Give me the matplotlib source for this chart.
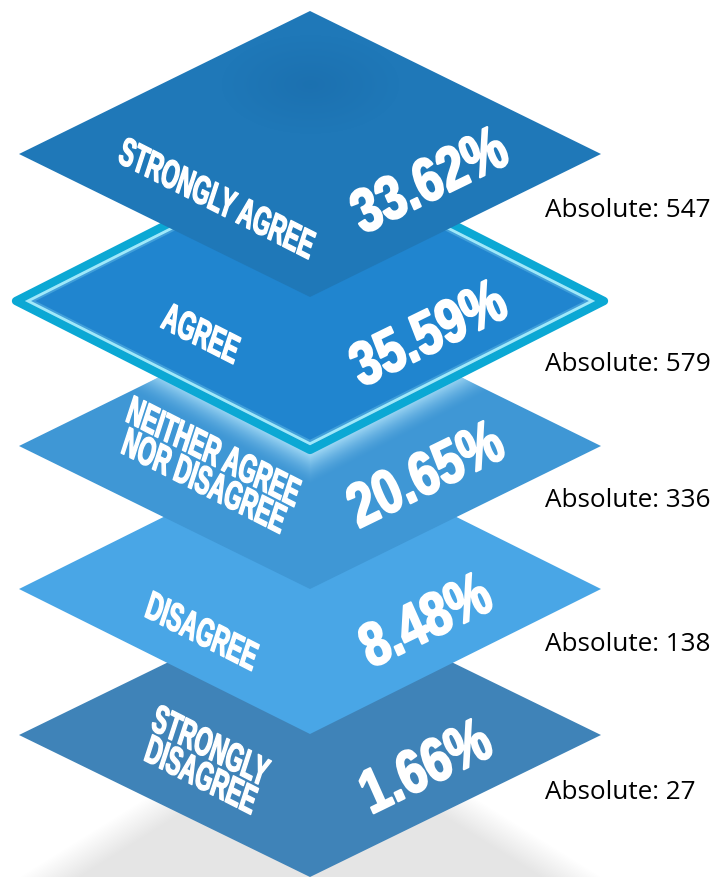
import numpy as np
import matplotlib
matplotlib.use("Agg")
import matplotlib.pyplot as plt
from matplotlib.patches import Polygon
from matplotlib.patheffects import AbstractPathEffect
from matplotlib.transforms import Affine2D

categories = ["STRONGLY AGREE", "AGREE", "NEITHER AGREE\nNOR DISAGREE", "DISAGREE", "STRONGLY\nDISAGREE"]
percents = [33.62, 35.59, 20.65, 8.48, 1.66]
absolutes = [547, 579, 336, 138, 27]

layer_colors = ["#1f78b8", "#2085cf", "#3f97d5", "#49a6e6", "#3f83b8"]
layer_y = [155, 302, 447, 590, 736]
layer_half_h = [143, 149, 143, 145, 142]
label_pos = [(216, 202), (200, 337), (208, 470), (201, 635), (205, 764)]
pct_pos = [(431, 185), (430, 338), (427, 479), (427, 625), (427, 771)]
abs_y = [211, 365, 501, 645, 793]

CX = 310
HALF_W = 291

fig = plt.figure(figsize=(7.16, 8.78), dpi=100)
ax = fig.add_axes([0, 0, 1, 1])
ax.set_axis_off()


class SkewText(AbstractPathEffect):
    # squeezes and leans the glyphs around the anchor, along the text direction
    def __init__(self, anchor, angle, narrow, lean, stroke):
        super().__init__()
        self.anchor = anchor
        self.angle = angle
        self.narrow = narrow
        self.lean = lean
        self.stroke = stroke

    def draw_path(self, renderer, gc, tpath, affine, rgbFace=None):
        x0, y0 = ax.transData.transform(self.anchor)
        warp = (Affine2D().translate(-x0, -y0).rotate_deg(-self.angle)
                .scale(self.narrow, 1).skew_deg(self.lean, 0)
                .rotate_deg(self.angle).translate(x0, y0))
        gc0 = renderer.new_gc()
        gc0.copy_properties(gc)
        gc0.set_linewidth(self.stroke)
        gc0.set_foreground("white")
        gc0.set_joinstyle("round")
        renderer.draw_path(gc0, tpath, affine + warp, rgbFace)
        gc0.restore()


def diamond(cy, half_h, half_w=HALF_W):
    return [(CX, cy - half_h), (CX + half_w, cy), (CX, cy + half_h), (CX - half_w, cy)]


# ground shadow
yy, xx = np.mgrid[770:878, 0:716]
d = np.abs(xx - CX) / 305 + np.abs(yy - 890) / 190
shadow = np.zeros(xx.shape + (4,))
shadow[..., :3] = 0.9
shadow[..., 3] = np.clip((1 - d) / 0.2 + 0.1, 0, 1)
ax.imshow(shadow, extent=(0, 716, 878, 770), zorder=1, aspect="auto", interpolation="bilinear")

# layers, stacked from the bottom up
for i in [4, 3, 2, 1, 0]:
    z = 10 + (4 - i) * 2
    pts = diamond(layer_y[i], layer_half_h[i])
    if i == 1:
        ax.add_patch(Polygon(diamond(layer_y[i], layer_half_h[i], 294), closed=True, fc=layer_colors[i],
                             ec="#0ba8d4", lw=6, joinstyle="round", zorder=z))
        for w, hw, hh, a in [(3.5, 280, 141.5, 0.25), (2.0, 282, 142.7, 0.95)]:
            ax.add_patch(Polygon(diamond(layer_y[i], hh, hw), closed=True, fill=False, ec="#a5eefc",
                                 lw=w, alpha=a, joinstyle="miter", zorder=z))
        continue
    poly = Polygon(pts, closed=True, fc=layer_colors[i], ec="none", zorder=z)
    ax.add_patch(poly)
    if i == 2:
        # glow of the highlighted layer on the one below
        yy, xx = np.mgrid[302:490, 0:716]
        edge = np.abs(xx - CX) / 292 + (yy - layer_y[1]) / 153
        glow = np.zeros(xx.shape + (4,))
        glow[..., :3] = (0.75, 0.93, 1.0)
        glow[..., 3] = np.clip(1 - (edge - 1) / 0.2, 0, 1) ** 1.6 * 0.75
        im = ax.imshow(glow, extent=(0, 716, 490, 302), zorder=z + 0.5, aspect="auto", interpolation="bilinear")
        im.set_clip_path(poly)
    if i == 0:
        # soft dark patch near the top of the first layer
        yy, xx = np.mgrid[30:150, 210:410]
        r = np.hypot((xx - 310) / 90, (yy - 85) / 50)
        blob = np.zeros(xx.shape + (4,))
        blob[..., :3] = (0.08, 0.38, 0.62)
        blob[..., 3] = np.clip(1 - r, 0, 1) * 0.3
        im = ax.imshow(blob, extent=(210, 410, 150, 30), zorder=z + 0.5, aspect="auto", interpolation="bilinear")
        im.set_clip_path(poly)

for i in range(5):
    ax.text(*label_pos[i], categories[i], color="white", fontsize=28, family="Liberation Sans",
            weight="bold", ha="center", va="center", ma="center", rotation=-27, rotation_mode="anchor",
            linespacing=0.8, zorder=30, path_effects=[SkewText(label_pos[i], -27, 0.6, -9, 1.0)])
    ax.text(*pct_pos[i], f"{percents[i]:.2f}%", color="white", fontsize=44, family="Liberation Sans",
            weight="bold", ha="center", va="center", rotation=26, rotation_mode="anchor",
            zorder=30, path_effects=[SkewText(pct_pos[i], 26, 0.8, 2, 1.6)])
    ax.text(545, abs_y[i], f"Absolute: {absolutes[i]}", color="black", fontsize=18.8, family="Open Sans",
            ha="left", va="center", zorder=30)

ax.set_xlim(0, 716)
ax.set_ylim(878, 0)
fig.savefig("out.png", dpi=100, facecolor="white")
